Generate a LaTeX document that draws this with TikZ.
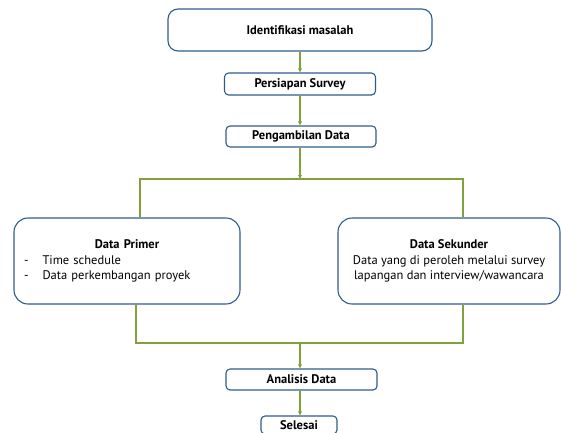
\documentclass[tikz,border=0pt]{standalone}
\usepackage{fontspec}
\setmainfont{PT Sans}
\usetikzlibrary{arrows.meta, positioning}

\definecolor{boxblue}{HTML}{2F5C8F}
\definecolor{linegreen}{HTML}{7FA33A}

\begin{document}
\begin{tikzpicture}[
    x=1pt, y=-1pt,
    stepbox/.style={
        rectangle, rounded corners=4pt, draw=boxblue, line width=1.1pt,
        fill=white, font=\bfseries\fontsize{12.5}{15}\selectfont,
        inner sep=2pt, minimum height=21pt,
    },
    databox/.style={
        rectangle, rounded corners=14pt, draw=boxblue, line width=1.1pt,
        fill=white, font=\fontsize{12.5}{15.5}\selectfont,
        minimum height=86pt,
    },
    flow/.style={
        -{Triangle[length=4pt, width=3.5pt]}, linegreen, line width=1.1pt,
    },
    link/.style={
        linegreen, line width=1.1pt,
    },
]

\useasboundingbox (0, 0) rectangle (561, 432);

% --- Steps ---
\node[stepbox, rounded corners=10pt, minimum width=264pt, minimum height=42pt]
    (idm) at (300, 30) {Identifikasi masalah};
\node[stepbox, minimum width=151pt, minimum height=22pt]
    (survey) at (300, 84) {Persiapan Survey};
\node[stepbox, minimum width=150pt]
    (ambil) at (301, 136.5) {Pengambilan Data};

% --- Data boxes ---
\node[databox, minimum width=226pt, text width=206pt, inner xsep=10pt, align=left]
    (primer) at (127, 261)
    {\makebox[\linewidth]{\bfseries Data Primer}\\
     -\hspace{14pt}Time schedule\\
     -\hspace{14pt}Data perkembangan proyek};
\node[databox, minimum width=222pt, align=center]
    (sekunder) at (449, 261)
    {{\bfseries Data Sekunder}\\
     Data yang di peroleh melalui survey\\
     lapangan dan interview/wawancara};

% --- Final steps ---
\node[stepbox, minimum width=151pt]
    (analisis) at (301.5, 379.5) {Analisis Data};
\node[stepbox, minimum width=76pt, minimum height=18pt]
    (selesai) at (299, 425) {Selesai};

% --- Junctions ---
\coordinate (split)  at (300, 179);
\coordinate (splitL) at (140, 179);
\coordinate (splitR) at (463, 179);
\coordinate (mergeL) at (136, 343);
\coordinate (mergeR) at (463, 343);
\coordinate (merge)  at (300, 343);

% --- Connectors ---
\draw[flow] (idm.south -| split) -- (survey.north -| split);
\draw[flow] (survey.south -| split) -- (ambil.north -| split);
\draw[flow] (ambil.south -| split) -- (split);
\draw[link] (splitL |- primer.north) -- (splitL) -- (splitR) -- (splitR |- sekunder.north);
\draw[link] (mergeL |- primer.south) -- (mergeL) -- (mergeR) -- (mergeR |- sekunder.south);
\draw[flow] (merge) -- (analisis.north -| merge);
\draw[flow] (analisis.south -| merge) -- (selesai.north -| merge);

\end{tikzpicture}
\end{document}
